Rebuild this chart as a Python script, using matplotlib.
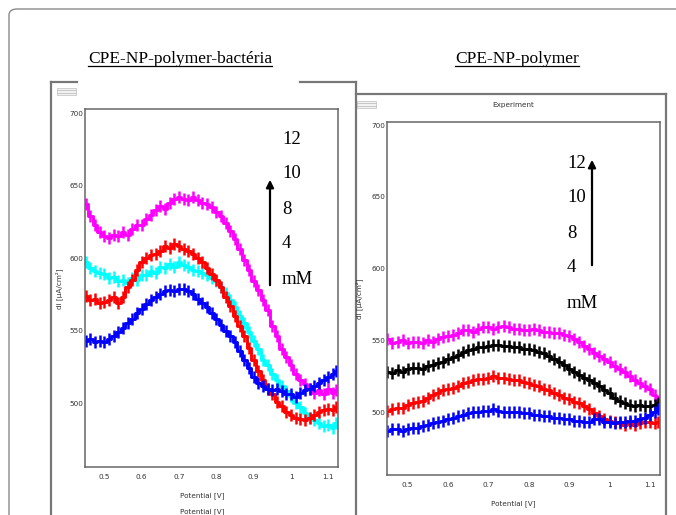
import numpy as np
import matplotlib.pyplot as plt
from matplotlib.lines import Line2D
from matplotlib.patches import FancyBboxPatch, FancyArrowPatch, Rectangle

# potential grid (V)
potential = [0.45, 0.4625, 0.475, 0.4875, 0.50, 0.5125, 0.525, 0.5375, 0.55, 0.5625,
             0.575, 0.5875, 0.60, 0.6125, 0.625, 0.6375, 0.65, 0.6625, 0.675, 0.6875,
             0.70, 0.7125, 0.725, 0.7375, 0.75, 0.7625, 0.775, 0.7875, 0.80, 0.8125,
             0.825, 0.8375, 0.85, 0.8625, 0.875, 0.8875, 0.90, 0.9125, 0.925, 0.9375,
             0.95, 0.9625, 0.975, 0.9875, 1.00, 1.0125, 1.025, 1.0375, 1.05, 1.0625,
             1.075, 1.0875, 1.10, 1.1125, 1.12]

# left panel: CPE-NP-polymer-bacteria (current, uA/cm2)
bact_magenta = [637, 629, 623, 618, 615, 614, 616, 615, 618, 616,
                620, 623, 623, 627, 630, 633, 636, 634, 638, 641,
                642, 641, 640, 642, 640, 638, 637, 635, 632, 629,
                624, 619, 613, 606, 599, 592, 584, 578, 571, 564,
                553, 546, 537, 532, 526, 520, 516, 513, 510, 507,
                509, 506, 510, 507, 509]
bact_cyan = [597, 593, 591, 590, 589, 586, 587, 584, 585, 583,
             586, 585, 588, 588, 591, 590, 594, 593, 596, 594,
             597, 595, 594, 592, 591, 590, 588, 586, 584, 580,
             576, 571, 566, 560, 555, 549, 543, 537, 530, 526,
             520, 516, 512, 508, 505, 500, 497, 493, 490, 488,
             486, 484, 485, 483, 486]
bact_red = [574, 571, 572, 569, 570, 571, 573, 569, 573, 580,
            585, 592, 597, 600, 602, 603, 605, 608, 607, 610,
            608, 606, 605, 603, 600, 597, 593, 589, 585, 580,
            573, 567, 560, 553, 546, 538, 530, 522, 516, 510,
            506, 501, 498, 494, 492, 490, 489, 488, 490, 492,
            494, 495, 496, 495, 497]
bact_blue = [543, 544, 542, 543, 542, 544, 546, 549, 552, 555,
             558, 562, 565, 568, 571, 573, 575, 577, 578, 577,
             579, 579, 577, 575, 572, 569, 566, 562, 558, 554,
             550, 546, 542, 536, 530, 524, 518, 514, 512, 510,
             509, 510, 508, 506, 506, 504, 507, 509, 510, 512,
             514, 516, 518, 520, 522]

# right panel: CPE-NP-polymer
poly_magenta = [551, 548, 549, 550, 548, 549, 549, 548, 550, 549,
                551, 552, 553, 554, 555, 557, 557, 556, 558, 559,
                559, 558, 559, 560, 559, 558, 558, 557, 557, 558,
                557, 556, 556, 555, 555, 554, 553, 551, 549, 546,
                544, 541, 539, 537, 535, 532, 530, 528, 525, 522,
                520, 518, 516, 512, 508]
poly_black = [528, 527, 529, 528, 530, 531, 531, 530, 532, 533,
              534, 535, 537, 538, 540, 542, 543, 544, 545, 545,
              546, 547, 547, 546, 546, 545, 545, 544, 544, 543,
              542, 541, 539, 537, 535, 533, 530, 528, 526, 524,
              522, 520, 518, 515, 513, 510, 508, 506, 505, 504,
              505, 504, 504, 505, 506]
poly_red = [501, 502, 503, 503, 505, 506, 507, 508, 510, 512,
            513, 515, 516, 517, 518, 520, 521, 522, 523, 523,
            524, 525, 524, 524, 523, 522, 522, 521, 520, 519,
            518, 516, 515, 513, 512, 510, 509, 507, 506, 504,
            502, 499, 497, 495, 494, 493, 492, 491, 492, 491,
            492, 493, 493, 492, 493]
poly_blue = [487, 488, 488, 487, 488, 489, 489, 490, 491, 492,
             493, 494, 495, 496, 497, 498, 499, 500, 500, 501,
             501, 502, 501, 500, 500, 500, 500, 499, 499, 498,
             498, 497, 497, 496, 496, 495, 495, 494, 494, 493,
             493, 495, 495, 493, 493, 492, 493, 493, 494, 494,
             495, 496, 498, 500, 502]

x_ticks = [0.5, 0.6, 0.7, 0.8, 0.9, 1.0, 1.1]
x_tick_labels = ['0.5', '0.6', '0.7', '0.8', '0.9', '1', '1.1']
y_ticks = [500, 550, 600, 650, 700]
conc_labels = ['12', '10', '8', '4', 'mM']

W, H = 676, 515
fig = plt.figure(figsize=(W / 100, H / 100), dpi=100)


def fx(x):
    return x / W


def fy(y):
    return 1 - y / H


def hline(x0, x1, y, **kw):
    fig.add_artist(Line2D([fx(x0), fx(x1)], [fy(y), fy(y)], transform=fig.transFigure, **kw))


def vline(x, y0, y1, **kw):
    fig.add_artist(Line2D([fx(x), fx(x)], [fy(y0), fy(y1)], transform=fig.transFigure, **kw))


# outer rounded frame
fig.add_artist(FancyBboxPatch((fx(9), fy(560)), fx(720), fy(9) - fy(560),
                              boxstyle='round,pad=0,rounding_size=0.012',
                              transform=fig.transFigure, fill=False,
                              edgecolor='#8a8a8a', lw=1.0))

# panel screenshot frames
frame_kw = dict(color='#777777', lw=1.6)
vline(51, 82, 515, **frame_kw)
hline(51, 77, 82, **frame_kw)
hline(300, 356, 82, **frame_kw)
vline(356, 82, 515, **frame_kw)
hline(356, 666, 94, **frame_kw)
vline(666, 94, 515, **frame_kw)

# little menu icons
for (ix, iy) in [(57, 88), (357, 101)]:
    fig.add_artist(Rectangle((fx(ix), fy(iy + 7)), fx(19), fy(iy) - fy(iy + 7),
                             transform=fig.transFigure, facecolor='#f2f2f2',
                             edgecolor='#c8c8c8', lw=0.6))
    for dy in (2.3, 4.6):
        hline(ix, ix + 19, iy + dy, color='#c0c0c0', lw=0.6)

small = dict(family=['Liberation Sans Narrow', 'DejaVu Sans'], fontsize=5.2, color='#333333')


def make_axes(box, xlim, ylim):
    x0, y0, x1, y1 = box
    ax = fig.add_axes([fx(x0), fy(y1), fx(x1 - x0), fy(y0) - fy(y1)])
    ax.set_xlim(*xlim)
    ax.set_ylim(*ylim)
    ax.set_xticks(x_ticks)
    ax.set_xticklabels(x_tick_labels, **small)
    ax.set_yticks(y_ticks)
    ax.set_yticklabels([str(v) for v in y_ticks], **small)
    ax.tick_params(length=0, pad=5)
    ax.tick_params(axis='y', pad=1.5)
    for s in ax.spines.values():
        s.set_color('#666666')
        s.set_linewidth(1.1)
    return ax


def draw(ax, y, color):
    ax.plot(potential, y, color=color, lw=2.1, drawstyle='steps-mid',
            marker='|', markersize=8, markeredgewidth=1.8)


axL = make_axes((85, 109, 338, 467), (0.448, 1.126), (455.9, 702.8))
draw(axL, bact_magenta, '#ff00ff')
draw(axL, bact_cyan, '#00ffff')
draw(axL, bact_red, '#ff0000')
draw(axL, bact_blue, '#0000ff')

axR = make_axes((387, 122, 660, 475), (0.449, 1.125), (456.1, 702.1))
draw(axR, poly_magenta, '#ff00ff')
draw(axR, poly_black, '#000000')
draw(axR, poly_red, '#ff0000')
draw(axR, poly_blue, '#0000ff')

# axis labels (screenshot style)
fig.text(fx(202), fy(496), 'Potential [V]', ha='center', va='center', **small)
fig.text(fx(202), fy(512), 'Potential [V]', ha='center', va='center', **small)
fig.text(fx(513), fy(504), 'Potential [V]', ha='center', va='center', **small)
fig.text(fx(513), fy(105), 'Experiment', ha='center', va='center', **small)
fig.text(fx(59), fy(289), 'di [µA/cm²]', rotation=90, ha='center', va='center', **small)
fig.text(fx(359), fy(299), 'di [µA/cm²]', rotation=90, ha='center', va='center', **small)

# concentration annotations and arrows
serif = dict(family=['Liberation Serif', 'DejaVu Serif'], fontsize=13.5, color='black')
for i, lab in enumerate(conc_labels):
    fig.text(fx(282), fy(139 + 35 * i), lab, ha='left', va='center', **serif)
    fig.text(fx(567), fy(163 + 35 * i), lab, ha='left', va='center', **serif)

for (ax_x, yb, yt) in [(270, 288, 177), (592, 268, 157)]:
    fig.add_artist(FancyArrowPatch(
        (fx(ax_x), fy(yb)), (fx(ax_x), fy(yt)), transform=fig.transFigure,
        arrowstyle='-|>', mutation_scale=11, lw=1.6, color='black'))

# underlined titles
titles = [(180, 'CPE-NP-polymer-bactéria'), (517, 'CPE-NP-polymer')]
title_objs = []
for cx, t in titles:
    title_objs.append(fig.text(fx(cx), fy(63), t, ha='center', va='baseline',
                               family=['Liberation Serif', 'DejaVu Serif'], fontsize=12.5))
fig.canvas.draw()
for tobj in title_objs:
    bb = tobj.get_window_extent()
    hline(bb.x0, bb.x1, 66, color='black', lw=0.9)

fig.savefig('out.png', dpi=100)
